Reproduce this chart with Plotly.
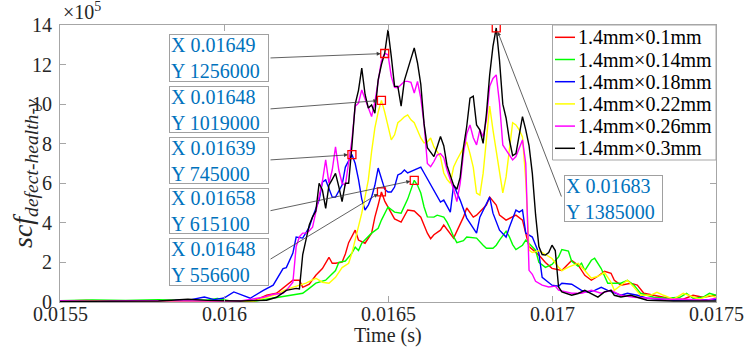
import plotly.graph_objects as go

# Stress concentration factor vs. time for six defect sizes (values in units of 1e5)
SCALE = 1e5

red_t = [0.0155, 0.01558, 0.01565, 0.01575, 0.01585, 0.01595, 0.01602, 0.01609, 0.01613, 0.01616,
         0.01619, 0.01621, 0.01623, 0.01624, 0.01626, 0.01628, 0.0163, 0.01631, 0.01632, 0.01633,
         0.01634, 0.01636, 0.01637, 0.01638, 0.0164, 0.01641, 0.01643, 0.01645, 0.01646, 0.01647,
         0.01648, 0.01649, 0.01651, 0.01652, 0.01654, 0.01656, 0.01658, 0.0166, 0.01662, 0.01663,
         0.01664, 0.01666, 0.01667, 0.01669, 0.0167, 0.01673, 0.01674, 0.01676, 0.01677, 0.0168,
         0.01681, 0.01683, 0.01684, 0.01686, 0.01688, 0.01689, 0.01691, 0.01692, 0.01693, 0.01695,
         0.01696, 0.01698, 0.017, 0.01703, 0.01705, 0.01706, 0.01708, 0.0171, 0.01712, 0.01714,
         0.01716, 0.01718, 0.01719, 0.01721, 0.01724, 0.01726, 0.01728, 0.01731, 0.01734, 0.01737,
         0.0174, 0.01743, 0.01746, 0.0175]
red_v = [0.05, 0.08, 0.04, 0.06, 0.05, 0.03, 0.06, 0.05, 0.34, 0.44,
         0.85, 1.10, 1.10, 0.74, 0.90, 1.35, 1.69, 2.01, 2.26, 1.96,
         1.96, 2.01, 2.43, 3.0, 3.63, 3.13, 2.97, 3.48, 4.29, 4.90,
         5.566, 5.1, 4.5, 4.2, 4.04, 4.65, 4.6, 4.29, 3.48, 3.2,
         3.4, 3.63, 3.89, 3.48, 3.23, 4.29, 4.75, 4.29, 4.39, 4.90,
         5.30, 4.9, 4.39, 4.14, 4.29, 4.39, 4.14, 3.48, 2.8, 2.52,
         2.37, 2.0, 1.7, 1.59, 1.96, 2.1, 1.86, 1.35, 1.10, 1.3,
         1.55, 1.45, 1.10, 0.85, 0.95, 0.85, 0.44, 0.34, 0.24, 0.14,
         0.14, 0.34, 0.24, 0.34]

green_t = [0.0155, 0.0156, 0.0157, 0.0158, 0.0159, 0.01595, 0.01598, 0.01602, 0.01609, 0.01617,
           0.01621, 0.01624, 0.01626, 0.01628, 0.01631, 0.01634, 0.01635, 0.01637, 0.01639, 0.0164,
           0.01641, 0.01642, 0.01645, 0.01647, 0.01648, 0.0165, 0.01652, 0.01654, 0.01656, 0.01658,
           0.01659, 0.0166, 0.01661, 0.01662, 0.01664, 0.01665, 0.01667, 0.01668, 0.01669, 0.0167,
           0.01671, 0.01673, 0.01674, 0.01677, 0.01679, 0.0168, 0.01682, 0.01683, 0.01684, 0.01686,
           0.01687, 0.01688, 0.01689, 0.01691, 0.01692, 0.01693, 0.01695, 0.01696, 0.01698, 0.017,
           0.01702, 0.01703, 0.01705, 0.01706, 0.01708, 0.01709, 0.0171, 0.01712, 0.01713, 0.01715,
           0.01717, 0.01721, 0.01723, 0.01725, 0.01727, 0.01731, 0.01735, 0.01739, 0.01741, 0.01743,
           0.01746, 0.01748, 0.0175]
green_v = [0.06, 0.1, 0.08, 0.12, 0.06, 0.1, 0.18, 0.05, 0.03, 0.25,
           0.34, 0.44, 0.69, 0.95, 1.10, 1.59, 2.0, 2.07, 2.47, 2.77,
           2.6, 2.97, 3.48, 3.73, 4.14, 4.80, 4.54, 4.49, 5.2, 6.151,
           5.9, 5.51, 4.8, 4.3, 4.29, 4.39, 4.29, 4.04, 3.7, 3.3,
           3.0, 3.1, 3.28, 3.23, 2.87, 2.72, 2.72, 2.87, 3.13, 3.58,
           3.3, 2.9, 2.65, 2.87, 3.13, 2.95, 2.62, 2.0, 1.75, 1.9,
           2.28, 2.65, 2.57, 2.06, 1.8, 1.96, 1.59, 2.11, 2.21, 1.69,
           0.95, 0.95, 1.10, 0.85, 0.44, 0.24, 0.19, 0.24, 0.44, 0.19,
           0.24, 0.44, 0.34]

blue_t = [0.0155, 0.01562, 0.01575, 0.01585, 0.0159, 0.01594, 0.01597, 0.016, 0.01603, 0.01608,
          0.01612, 0.01615, 0.01618, 0.01619, 0.01621, 0.01622, 0.01624, 0.01626, 0.01627, 0.01629,
          0.0163, 0.01631, 0.01633, 0.01634, 0.01636, 0.01637, 0.01639, 0.0164, 0.01641, 0.01642,
          0.01643, 0.01644, 0.01645, 0.01646, 0.01647, 0.01648, 0.01649, 0.0165, 0.01651, 0.01652,
          0.01653, 0.01654, 0.01655, 0.01656, 0.01658, 0.0166, 0.01661, 0.01664, 0.01666, 0.01667,
          0.01669, 0.0167, 0.01672, 0.01674, 0.01677, 0.01678, 0.01681, 0.01682, 0.01684, 0.01686,
          0.01687, 0.01689, 0.0169, 0.01691, 0.01692, 0.01694, 0.01696, 0.01697, 0.01699, 0.017,
          0.01702, 0.01703, 0.01706, 0.01709, 0.01711, 0.01713, 0.01715, 0.01717, 0.01721, 0.01723,
          0.01726, 0.01729, 0.01737, 0.01745, 0.01749, 0.0175]
blue_v = [0.04, 0.06, 0.05, 0.08, 0.12, 0.25, 0.12, 0.2, 0.51, 0.19,
          0.59, 0.85, 1.69, 1.74, 2.47, 3.28, 3.23, 3.78, 4.29, 5.15,
          6.06, 6.17, 5.30, 5.30, 5.91, 6.82, 7.45, 7.0, 6.2, 5.2,
          4.65, 4.9, 5.3, 5.9, 6.77, 6.2, 5.7, 5.56, 5.56, 5.81,
          6.42, 6.5, 6.67, 6.52, 6.67, 6.82, 6.52, 5.66, 5.05, 5.15,
          4.54, 5.91, 5.15, 4.24, 3.48, 4.29, 5.30, 4.49, 3.63, 3.28,
          3.78, 4.65, 4.54, 4.65, 3.48, 3.28, 2.47, 1.25, 0.95, 0.85,
          0.8, 0.95, 0.90, 0.59, 0.49, 0.59, 0.74, 0.59, 0.34, 0.44,
          0.34, 0.19, 0.09, 0.09, 0.1, 0.12]

yellow_t = [0.0155, 0.01562, 0.01575, 0.01588, 0.01598, 0.01605, 0.01609, 0.01612, 0.01616, 0.01619,
            0.01622, 0.01625, 0.01628, 0.0163, 0.01632, 0.01634, 0.01636, 0.01638,
            0.01639, 0.0164, 0.01641, 0.01642, 0.01643, 0.01644, 0.01645, 0.01646, 0.01647, 0.01648,
            0.01649, 0.0165, 0.01651, 0.01652, 0.01653, 0.01654, 0.01655, 0.01656, 0.01657, 0.01658,
            0.01659, 0.0166, 0.01661, 0.01662, 0.01663, 0.01664, 0.01665, 0.01666, 0.01667, 0.01668,
            0.01669, 0.0167, 0.01671, 0.01672, 0.01673, 0.01674, 0.01675, 0.01676, 0.01677, 0.01678,
            0.01679, 0.0168, 0.01681, 0.01682, 0.01683, 0.01684, 0.01685, 0.01686, 0.01687, 0.01688,
            0.01689, 0.0169, 0.01691, 0.01692, 0.01693, 0.01694, 0.01695, 0.01696,
            0.01698, 0.017, 0.01702, 0.01703, 0.01705, 0.01708, 0.0171, 0.01712, 0.01714, 0.01716,
            0.01718, 0.01719, 0.01721, 0.01723, 0.01725, 0.01727, 0.0173, 0.01732, 0.01734, 0.01737,
            0.0174, 0.01743, 0.01745, 0.01748, 0.0175]
yellow_v = [0.05, 0.07, 0.04, 0.06, 0.05, 0.04, 0.03, 0.19, 0.39, 0.64,
            0.8, 0.95, 1.2, 1.0, 0.95, 1.25, 1.74, 1.96,
            2.47, 3.13, 3.78, 4.49, 5.3, 6.17, 7.6, 8.8, 9.6, 10.19,
            9.6, 8.9, 8.19, 8.45, 9.06, 9.2, 9.36, 9.46, 9.21, 9.06,
            8.7, 8.29, 8.04, 8.09, 8.29, 7.84, 7.6, 7.33, 6.52, 6.2,
            6.0, 6.82, 7.18, 7.5, 7.84, 8.09, 7.5, 6.8, 5.5, 5.4,
            6.5, 8.2, 9.9, 8.7, 7.69, 6.52, 5.51, 6.32, 7.79, 9.06,
            8.95, 8.7, 8.34, 6.17, 2.62, 2.5, 2.55, 2.6,
            2.4, 2.2, 1.76, 1.59, 1.76, 1.96, 1.59, 1.2, 1.3, 1.49,
            1.0, 0.59, 0.85, 1.10, 0.74, 0.34, 0.34, 0.49, 0.34, 0.14,
            0.44, 0.24, 0.14, 0.34, 0.24]

magenta_t = [0.0155, 0.0156, 0.01572, 0.01585, 0.01595, 0.01605, 0.01612, 0.01615, 0.01618, 0.01619,
             0.01621,
             0.01622, 0.01623, 0.01624, 0.01625, 0.01626, 0.01627, 0.01628, 0.01629, 0.0163, 0.01631,
             0.01632, 0.01633, 0.01634, 0.01635, 0.01636, 0.01637, 0.01638, 0.01639, 0.0164, 0.01641,
             0.01642, 0.01643, 0.01644, 0.01645, 0.01646, 0.01647, 0.01648, 0.01649, 0.0165, 0.01651,
             0.01652, 0.01653, 0.01654, 0.01655, 0.01656, 0.01657, 0.01658, 0.01659, 0.0166, 0.01661,
             0.01662, 0.01663, 0.01664, 0.01665, 0.01666, 0.01667, 0.01668, 0.01669, 0.0167, 0.01671,
             0.01672, 0.01673, 0.01674, 0.01675, 0.01676, 0.01677, 0.01678, 0.01679, 0.0168, 0.01681,
             0.01682, 0.01683, 0.01684, 0.01685, 0.01686, 0.01687, 0.01688, 0.01689, 0.0169, 0.01691,
             0.01692, 0.01693, 0.01694, 0.01695,
             0.01697, 0.01699, 0.01701, 0.01702, 0.01706, 0.01709, 0.01712, 0.01715, 0.01718, 0.01721,
             0.01725, 0.01729, 0.01735, 0.01741, 0.01747, 0.0175]
magenta_v = [0.06, 0.04, 0.06, 0.07, 0.05, 0.05, 0.24, 0.39, 0.44, 0.59,
             1.0,
             2.8, 3.3, 3.48, 3.48, 3.6, 3.78, 4.6, 5.4, 6.1, 7.18,
             6.0, 6.67, 7.84, 6.67, 6.0, 5.91, 7.0, 8.2, 9.9, 10.05,
             10.72, 10.3, 9.8, 9.37, 10.1, 11.2, 12.2, 12.56, 12.5, 11.4,
             10.85, 10.83, 11.0, 11.15, 11.15, 11.1, 10.56, 11.15, 10.3, 9.0,
             7.0, 6.84, 7.1, 7.43, 7.5, 7.3, 6.67, 6.17, 5.7, 5.07,
             6.0, 7.5, 8.5, 8.95, 8.3, 7.94, 8.70, 8.36, 9.2, 10.9,
             11.3, 11.48, 10.05, 7.94, 7.7, 7.4, 7.18, 7.35, 7.8, 8.19,
             7.0, 1.6, 1.4, 1.05,
             0.85, 0.76, 0.8, 0.6, 0.44, 0.44, 0.59, 0.44, 0.59, 0.34,
             0.24, 0.19, 0.14, 0.14, 0.09, 0.19]

black_t = [0.0155, 0.01565, 0.0158, 0.01589, 0.01595, 0.01605, 0.01613, 0.01616, 0.01619, 0.01622,
           0.01623, 0.01624, 0.01625, 0.01626, 0.01627, 0.01628, 0.01629, 0.0163, 0.01631, 0.01632,
           0.01633, 0.01634, 0.01635, 0.01636, 0.01637, 0.01638, 0.01639, 0.0164, 0.01641, 0.01642,
           0.01643, 0.01644, 0.01645, 0.01646, 0.01647, 0.01648, 0.01649, 0.0165, 0.01651, 0.01652,
           0.01653, 0.01654, 0.01655, 0.01656, 0.01657, 0.01658, 0.01659, 0.0166, 0.01661, 0.01662,
           0.01663, 0.01664, 0.01665, 0.01666, 0.01667, 0.01668, 0.01669, 0.0167, 0.01671, 0.01672,
           0.01673, 0.01674, 0.01675, 0.01676, 0.01677, 0.01678, 0.01679, 0.0168, 0.01681, 0.01682,
           0.01683, 0.01684, 0.01685, 0.01686, 0.01687, 0.01688, 0.01689, 0.0169, 0.01691, 0.01692,
           0.01693, 0.01694, 0.01695, 0.01696, 0.01697, 0.01698, 0.01699, 0.017, 0.01701, 0.01702,
           0.01703,
           0.01706, 0.01708, 0.0171, 0.01712, 0.01714, 0.01716, 0.01718, 0.01719, 0.01721, 0.01724,
           0.01726, 0.01729, 0.01737, 0.0175]
black_v = [0.03, 0.04, 0.05, 0.14, 0.08, 0.05, 0.09, 0.24, 0.59, 0.69,
           0.66, 2.4, 3.1, 3.9, 4.3, 4.6, 6.0, 5.66, 4.73, 5.9,
           6.2, 6.5, 5.83, 5.07, 6.0, 6.0, 7.9, 10.0, 10.7, 11.82,
           10.5, 9.8, 9.96, 9.54, 11.23, 12.0, 12.58, 13.76, 12.41, 10.9,
           10.9, 9.9, 11.2, 11.8, 12.3, 12.84, 12.08, 11.0, 9.0, 7.8,
           7.6, 7.35, 7.85, 8.36, 7.9, 6.9, 6.4, 5.9, 5.7, 6.3,
           7.8, 8.87, 10.3, 10.4, 8.95, 8.70, 8.02, 9.5, 11.48, 12.92,
           13.85, 12.2, 10.0, 9.3, 8.2, 7.4, 7.5, 8.4, 9.37, 8.7,
           7.9, 6.5, 4.4, 2.8, 2.4, 2.37, 2.5, 2.87, 2.6, 0.76,
           0.51,
           0.34, 0.43, 0.59, 0.43, 0.25, 0.51, 0.59, 0.34, 0.25, 0.34,
           0.25, 0.09, 0.05, 0.05]

names = ["1.4mm×0.1mm", "1.4mm×0.14mm", "1.4mm×0.18mm",
         "1.4mm×0.22mm", "1.4mm×0.26mm", "1.4mm×0.3mm"]
colors = ["#ff0000", "#00ff00", "#0000ff", "#ffff00", "#ff00ff", "#000000"]
series = [(red_t, red_v), (green_t, green_v), (blue_t, blue_v),
          (yellow_t, yellow_v), (magenta_t, magenta_v), (black_t, black_v)]

# Data tips: time (s) and value
tip_t = [0.01649, 0.01648, 0.01639, 0.01658, 0.01648, 0.01683]
tip_v = [1256000, 1019000, 745000, 615100, 556600, 1385000]

x_ticks = [0.0155, 0.016, 0.0165, 0.017, 0.0175]
x_tick_text = ["0.0155", "0.016", "0.0165", "0.017", "0.0175"]
y_ticks = [0, 2, 4, 6, 8, 10, 12, 14]
y_tick_text = ["0", "2", "4", "6", "8", "10", "12", "14"]

# ---- layout geometry (pixels) ----
W, H = 744, 359
ML, MR, MT, MB = 60, 28, 25, 57
PW, PH = W - ML - MR, H - MT - MB
X0, X1, Y0, Y1 = 0.0155, 0.0175, 0.0, 14.0
FONT = "Liberation Serif"
AX_GRAY = "#a6a6a6"
TXT = "#262626"
TIP_BLUE = "#0072bd"


def fx(p):
    return (p - ML) / PW


def fy(p):
    return (H - MB - p) / PH


def data_px(t, v):
    return ML + (t - X0) / (X1 - X0) * PW, H - MB - (v - Y0) / (Y1 - Y0) * PH


def label(text, x, y, size=20, color=TXT, xanchor="center", yanchor="middle", **kw):
    return dict(xref="paper", yref="paper", x=x, y=y, xanchor=xanchor, yanchor=yanchor,
                text=text, showarrow=False, font=dict(family=FONT, size=size, color=color), **kw)


fig = go.Figure()
for (t, v), c, n in zip(series, colors, names):
    assert len(t) == len(v), n
    fig.add_trace(go.Scatter(x=t, y=v, mode="lines", name=n,
                             line=dict(color=c, width=1.4), showlegend=False))

fig.add_trace(go.Scatter(x=tip_t, y=[v / SCALE for v in tip_v], mode="markers",
                         marker=dict(symbol="square-open", size=8, color="#ff0000",
                                     line=dict(width=1.3, color="#ff0000")),
                         showlegend=False, hoverinfo="skip"))

annotations = []
shapes = []

# tick labels drawn as text so they share the serif face used elsewhere
for xv, xt in zip(x_ticks, x_tick_text):
    annotations.append(label(xt, fx(data_px(xv, 0)[0]), fy(314)))
for yv, yt in zip(y_ticks, y_tick_text):
    annotations.append(label(yt, fx(54), fy(data_px(X0, yv)[1]), xanchor="right"))

# data-tip boxes: top-left corner and size in pixels
boxes = [(169, 34, 100, 48), (169, 86, 100, 47), (169, 137, 100, 47),
         (169, 188, 100, 46), (169, 238, 100, 48), (564, 175, 99, 47)]
tails = [(269, 58), (269, 109), (269, 160), (269, 211), (269, 260), (562, 198)]

for (bx, by, bw, bh), (tx, ty), t, v in zip(boxes, tails, tip_t, tip_v):
    annotations.append(label(
        f"X {t:.5f}<br>Y {int(v)}", fx(bx), fy(by), size=20, color=TIP_BLUE,
        xanchor="left", yanchor="top", align="left",
        bgcolor="white", bordercolor="#a0a0a0", borderwidth=1, borderpad=1,
        width=bw - 4, height=bh - 4))
    hx, hy = data_px(t, v / SCALE)
    annotations.append(dict(
        xref="x", yref="y", x=t, y=v / SCALE, ax=tx - hx, ay=ty - hy,
        text="", showarrow=True, arrowhead=2, arrowsize=1, arrowwidth=0.8,
        arrowcolor="#3a3a3a", standoff=4))

# legend
lg_left, lg_top, lg_bottom = 552.5, 25, 160
shapes.append(dict(type="rect", xref="paper", yref="paper", x0=fx(lg_left), x1=1.0,
                   y0=fy(lg_bottom), y1=fy(lg_top), fillcolor="white",
                   line=dict(color=AX_GRAY, width=1), layer="above"))
for i, (n, c) in enumerate(zip(names, colors)):
    yc = 37.3 + 22.2 * i
    shapes.append(dict(type="line", xref="paper", yref="paper", x0=fx(555), x1=fx(575),
                       y0=fy(yc), y1=fy(yc), line=dict(color=c, width=1.5), layer="above"))
    annotations.append(label(n, fx(576), fy(yc), color="#000000", xanchor="left"))

# exponent, axis titles
annotations.append(label("×10<sup>5</sup>", fx(61), fy(25), xanchor="left", yanchor="bottom"))
annotations.append(label("Time (s)", 0.5, fy(335)))
annotations.append(label("<i>scf</i><sub><i>defect-health-y</i></sub>", fx(24), fy(174),
                         size=28, textangle=-90))

axis_common = dict(showline=True, linecolor=AX_GRAY, linewidth=1, mirror="ticks",
                   ticks="inside", ticklen=6, tickcolor=AX_GRAY, showgrid=False,
                   zeroline=False, showticklabels=False)

fig.update_layout(
    width=W, height=H, margin=dict(l=ML, r=MR, t=MT, b=MB, pad=0),
    paper_bgcolor="white", plot_bgcolor="white",
    font=dict(family=FONT),
    xaxis=dict(range=[X0, X1], tickvals=x_ticks, **axis_common),
    yaxis=dict(range=[Y0, Y1], tickvals=y_ticks, **axis_common),
    annotations=annotations, shapes=shapes, showlegend=False,
)

fig.write_html("out.html")
